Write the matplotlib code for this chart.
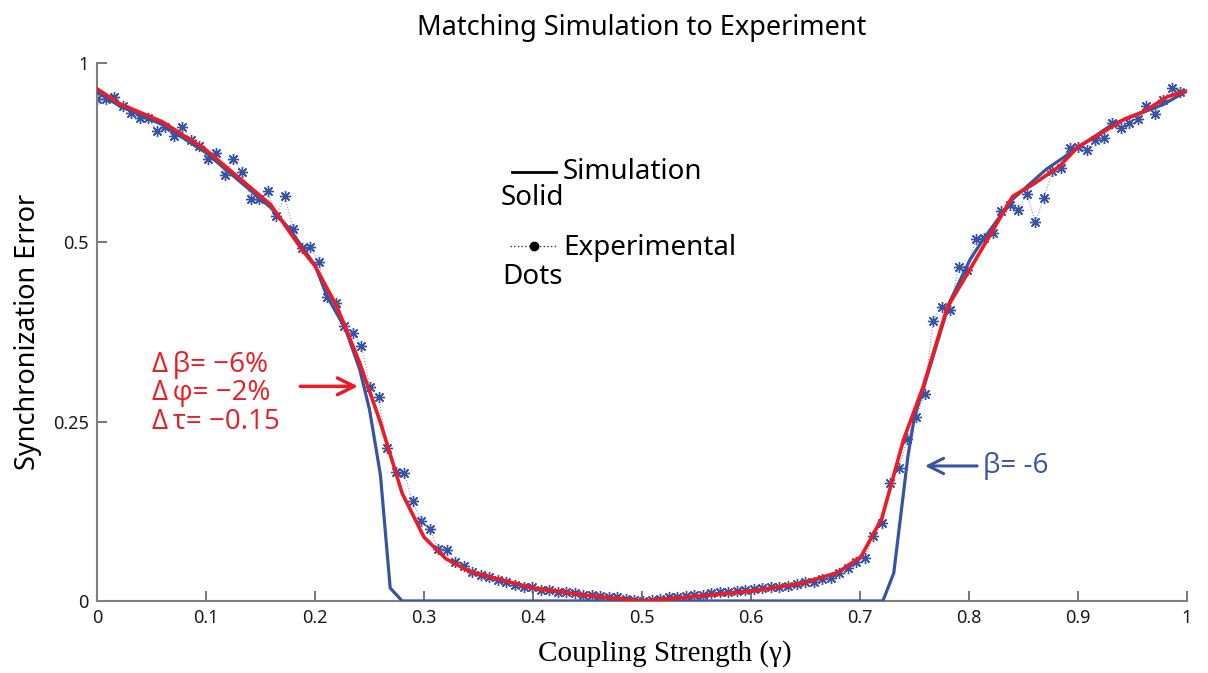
import numpy as np
import matplotlib
matplotlib.use("Agg")
import matplotlib.pyplot as plt
from matplotlib.lines import Line2D

plt.rcParams['font.family'] = ['Noto Sans', 'DejaVu Sans']

# simulation, adjusted parameters (red)
sim_x = [0, 0.021, 0.060, 0.099, 0.159, 0.188, 0.200, 0.220, 0.241, 0.260, 0.280,
         0.300, 0.320, 0.342, 0.400, 0.449, 0.500, 0.553, 0.602, 0.648, 0.680, 0.701,
         0.720, 0.740, 0.758, 0.780, 0.800, 0.840, 0.859, 0.883, 0.900, 0.943, 0.960,
         0.982, 1.000]
sim_y = [0.714, 0.693, 0.668, 0.630, 0.553, 0.490, 0.467, 0.411, 0.332, 0.249, 0.150,
         0.089, 0.059, 0.041, 0.018, 0.008, 0.000, 0.007, 0.014, 0.025, 0.040, 0.062,
         0.115, 0.225, 0.299, 0.409, 0.460, 0.564, 0.581, 0.606, 0.633, 0.672, 0.682,
         0.703, 0.711]

# simulation, beta = -6 (blue)
beta_x = [0, 0.021, 0.060, 0.099, 0.159, 0.177, 0.200, 0.211, 0.228, 0.241, 0.250,
          0.260, 0.269, 0.280, 0.721, 0.731, 0.744, 0.750, 0.758, 0.782, 0.801, 0.813,
          0.840, 0.871, 0.932, 0.978, 1.000]
beta_y = [0.709, 0.690, 0.664, 0.626, 0.549, 0.518, 0.468, 0.425, 0.379, 0.323, 0.267,
          0.176, 0.018, 0.000, 0.000, 0.039, 0.202, 0.257, 0.295, 0.416, 0.476, 0.504,
          0.560, 0.602, 0.665, 0.692, 0.711]

# experimental points
exp_y = [0.700, 0.700, 0.702, 0.690, 0.680, 0.674, 0.673, 0.655, 0.661, 0.648,
         0.661, 0.643, 0.634, 0.616, 0.625, 0.594, 0.616, 0.598, 0.560, 0.561,
         0.572, 0.537, 0.565, 0.518, 0.492, 0.493,
         0.473, 0.424, 0.416, 0.383, 0.373, 0.356, 0.298, 0.285, 0.213, 0.180,
         0.178, 0.139, 0.112, 0.101,
         0.072, 0.071, 0.055, 0.049, 0.040, 0.036, 0.033, 0.029, 0.026, 0.022,
         0.020, 0.019, 0.016, 0.015, 0.013, 0.012, 0.011, 0.009, 0.008, 0.007,
         0.006, 0.005, 0.003, 0.001, 0.000,
         0.002, 0.003, 0.005, 0.006, 0.007, 0.008, 0.009, 0.011, 0.012, 0.013,
         0.014, 0.015, 0.017, 0.018, 0.019, 0.020, 0.021, 0.024, 0.026, 0.027,
         0.030, 0.032, 0.039,
         0.046, 0.055, 0.060, 0.091, 0.109, 0.165, 0.186, 0.226, 0.257, 0.288, 0.391,
         0.410, 0.406, 0.466, 0.461, 0.504, 0.506, 0.513, 0.543, 0.552, 0.545,
         0.568, 0.528, 0.562, 0.600, 0.604, 0.632, 0.633, 0.629, 0.642, 0.645,
         0.667, 0.659, 0.667, 0.672, 0.690, 0.679, 0.698, 0.715, 0.709]
exp_x = np.linspace(0, 0.994, len(exp_y))

yticks = [0, 0.25, 0.5, 0.75]
ytick_labels = ['0', '0.25', '0.5', '1']
xticks = [0, 0.1, 0.2, 0.3, 0.4, 0.5, 0.6, 0.7, 0.8, 0.9, 1]
xtick_labels = ['0', '0.1', '0.2', '0.3', '0.4', '0.5', '0.6', '0.7', '0.8', '0.9', '1']

RED = '#ed1c24'
BLUE = '#3953a4'

fig = plt.figure(figsize=(12.08, 6.73), dpi=100)
ax = fig.add_axes([0.0803, 0.107, 0.9023, 0.7994])

ax.plot(exp_x, exp_y, color='#7f95cc', linestyle=':', linewidth=0.8, zorder=1)
ax.plot(exp_x, exp_y, color=BLUE, linestyle='none', marker=(8, 2, 0),
        markersize=8, markeredgewidth=1.0, zorder=2)
ax.plot(beta_x, beta_y, color=BLUE, linewidth=2.3, zorder=3)
ax.plot(sim_x, sim_y, color=RED, linewidth=2.6, zorder=4)

ax.set_xlim(0, 1)
ax.set_ylim(0, 0.75)
ax.set_xticks(xticks)
ax.set_xticklabels(xtick_labels)
ax.set_yticks(yticks)
ax.set_yticklabels(ytick_labels)
for s in ['top', 'right']:
    ax.spines[s].set_visible(False)
for s in ['left', 'bottom']:
    ax.spines[s].set_color('#808080')
    ax.spines[s].set_linewidth(1.5)
ax.tick_params(direction='in', length=7, width=1.2, color='#606060',
               labelsize=13, labelcolor='#1a1a1a', pad=6)

ax.set_title('Matching Simulation to Experiment', fontsize=19.5, pad=20)
ax.set_ylabel('Synchronization Error', fontsize=19.5, labelpad=8)
ax.set_xlabel('Coupling Strength (\u03b3)', fontsize=21, family='Liberation Serif')
ax.xaxis.set_label_coords(0.521, -0.072)

# legend drawn by hand
tr = ax.transAxes
ax.add_line(Line2D([0.381, 0.421], [0.797, 0.797], transform=tr, color='black',
                   linewidth=2, clip_on=False))
ax.text(0.4275, 0.797, 'Simulation', transform=tr, fontsize=20, va='center')
ax.text(0.370, 0.749, 'Solid', transform=tr, fontsize=20, va='center')
ax.add_line(Line2D([0.379, 0.423], [0.660, 0.660], transform=tr, color='#333333',
                   linewidth=1, linestyle=':', clip_on=False))
ax.add_line(Line2D([0.401], [0.660], transform=tr, color='black', marker='o',
                   markersize=6, linestyle='none', clip_on=False))
ax.text(0.4275, 0.656, 'Experimental', transform=tr, fontsize=20, va='center')
ax.text(0.3716, 0.602, 'Dots', transform=tr, fontsize=20, va='center')

# annotations
ann_font = ['Open Sans', 'DejaVu Sans']
ax.text(0.0505, 0.438, '\u0394\u2009\u03b2= \u22126%', transform=tr, fontsize=20,
        color=RED, va='center', family=ann_font)
ax.text(0.0505, 0.386, '\u0394\u2009\u03c6= \u22122%', transform=tr, fontsize=20,
        color=RED, va='center', family=ann_font)
ax.text(0.0505, 0.332, '\u0394\u2009\u03c4= \u22120.15', transform=tr, fontsize=20,
        color=RED, va='center', family=ann_font)
ax.annotate('', xy=(0.242, 0.399), xytext=(0.184, 0.399), xycoords=tr, textcoords=tr,
            arrowprops=dict(arrowstyle='->,head_length=1.2,head_width=0.6',
                            color=RED, lw=2.5))
ax.annotate('', xy=(0.757, 0.251), xytext=(0.810, 0.251), xycoords=tr, textcoords=tr,
            arrowprops=dict(arrowstyle='->,head_length=1.1,head_width=0.55',
                            color=BLUE, lw=2.2))
ax.text(0.813, 0.251, '\u03b2= -6', transform=tr, fontsize=20, color=BLUE, va='center',
        family=ann_font)

fig.savefig('out.png', dpi=100)
